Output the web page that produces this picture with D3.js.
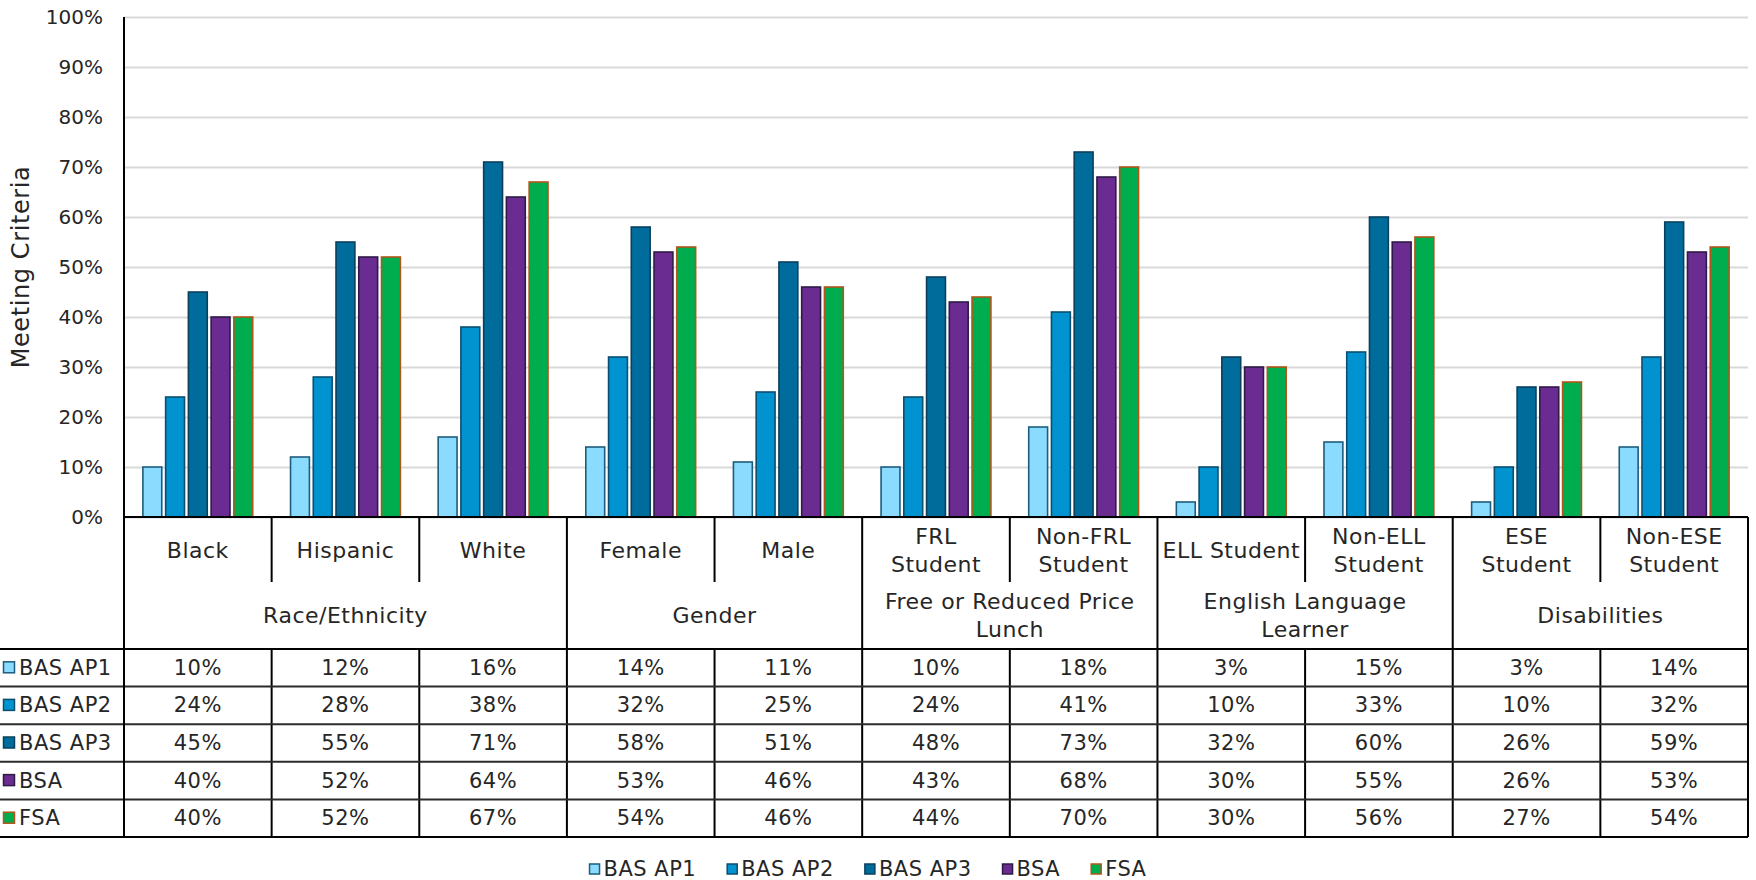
<!DOCTYPE html>
<html>
<head>
<meta charset="utf-8">
<script src="https://cdn.jsdelivr.net/npm/d3@7"></script>
<style>
  html, body { margin: 0; padding: 0; background: #fff; }
  svg { display: block; }
  text { font-family: "DejaVu Sans", sans-serif; fill: #262626; }
</style>
</head>
<body>
<svg id="chart" width="1756" height="880"></svg>
<script>
// Student subgroups (columns) and the report groups they belong to
const categories = ["Black", "Hispanic", "White", "Female", "Male", "FRL Student",
  "Non-FRL Student", "ELL Student", "Non-ELL Student", "ESE Student", "Non-ESE Student"];
const categoryLines = [["Black"], ["Hispanic"], ["White"], ["Female"], ["Male"],
  ["FRL", "Student"], ["Non-FRL", "Student"], ["ELL Student"], ["Non-ELL", "Student"],
  ["ESE", "Student"], ["Non-ESE", "Student"]];
const groupNames = [["Race/Ethnicity"], ["Gender"], ["Free or Reduced Price", "Lunch"],
  ["English Language", "Learner"], ["Disabilities"]];
const groupSizes = [3, 2, 2, 2, 2];

// Percent of students meeting criteria, by assessment
const seriesNames = ["BAS AP1", "BAS AP2", "BAS AP3", "BSA", "FSA"];
const basAp1 = [10, 12, 16, 14, 11, 10, 18, 3, 15, 3, 14];
const basAp2 = [24, 28, 38, 32, 25, 24, 41, 10, 33, 10, 32];
const basAp3 = [45, 55, 71, 58, 51, 48, 73, 32, 60, 26, 59];
const bsa    = [40, 52, 64, 53, 46, 43, 68, 30, 55, 26, 53];
const fsa    = [40, 52, 67, 54, 46, 44, 70, 30, 56, 27, 54];
const seriesValues = [basAp1, basAp2, basAp3, bsa, fsa];

const yTicks = [0, 10, 20, 30, 40, 50, 60, 70, 80, 90, 100];

const fills   = ["#8BDBFF", "#0093D0", "#006C9C", "#6A2C91", "#00AD4E"];
const strokes = ["#1D5C7C", "#0B4E6E", "#0A405C", "#2E1B45", "#B0561A"];

const svg = d3.select("#chart");
const plotLeft = 124, plotRight = 1748, plotTop = 17, plotBase = 517;
const catRowBottom = 582, tableTop = 649, rowH = 37.6;
const tableBottom = tableTop + rowH * seriesNames.length;

const x0 = d3.scaleBand().domain(categories).range([plotLeft, plotRight]).padding(0);
const cw = x0.bandwidth();
const x1 = d3.scaleBand().domain(seriesNames)
  .range([cw * 0.128, cw * 0.872]).paddingInner(0.17);
const y = d3.scaleLinear().domain([0, 100]).range([plotBase, plotTop]);

const labelSize = "22px", labelSpacing = "0.5px";

// Gridlines and percent tick labels
const yAxis = d3.axisLeft(y).tickValues(yTicks).tickFormat(d => d + "%")
  .tickSizeInner(-(plotRight - plotLeft)).tickSizeOuter(0).tickPadding(21);
const gy = svg.append("g").attr("transform", `translate(${plotLeft},0)`).call(yAxis);
gy.select(".domain").remove();
gy.selectAll(".tick line").attr("stroke", "#d9d9d9").attr("stroke-width", 2);
gy.selectAll(".tick text").style("font-size", "20px").style("font-family", "DejaVu Sans")
  .attr("fill", "#262626");

// Axis title
svg.append("text")
  .attr("transform", `translate(21,${(plotTop + plotBase) / 2}) rotate(-90)`)
  .attr("text-anchor", "middle").attr("dominant-baseline", "central")
  .style("font-size", "24px").style("letter-spacing", "0.6px")
  .text("Meeting Criteria");

// Bars
const gBars = svg.append("g");
categories.forEach((c, ci) => {
  seriesNames.forEach((s, si) => {
    const v = seriesValues[si][ci];
    gBars.append("rect")
      .attr("x", x0(c) + x1(s))
      .attr("y", y(v))
      .attr("width", x1.bandwidth())
      .attr("height", y(0) - y(v))
      .attr("fill", fills[si])
      .attr("stroke", strokes[si])
      .attr("stroke-width", 1.6);
  });
});

// Category header texts
categories.forEach((c, ci) => {
  const lines = categoryLines[ci];
  const cx = x0(c) + cw / 2, cy = (plotBase + catRowBottom) / 2 + 1;
  lines.forEach((ln, li) => {
    svg.append("text").attr("x", cx)
      .attr("y", cy + (li - (lines.length - 1) / 2) * 28)
      .attr("text-anchor", "middle").attr("dominant-baseline", "central")
      .style("font-size", labelSize).style("letter-spacing", labelSpacing).text(ln);
  });
});

// Group header texts
let startIdx = 0;
const groupBounds = [];
groupSizes.forEach((n, gi) => {
  const gx0 = x0(categories[startIdx]);
  const gx1 = x0(categories[startIdx + n - 1]) + cw;
  groupBounds.push([gx0, gx1]);
  const lines = groupNames[gi];
  const cy = (catRowBottom + tableTop) / 2;
  lines.forEach((ln, li) => {
    svg.append("text").attr("x", (gx0 + gx1) / 2)
      .attr("y", cy + (li - (lines.length - 1) / 2) * 28)
      .attr("text-anchor", "middle").attr("dominant-baseline", "central")
      .style("font-size", labelSize).style("letter-spacing", labelSpacing).text(ln);
  });
  startIdx += n;
});

// Data table values and row headers
seriesNames.forEach((s, si) => {
  const cy = tableTop + rowH * (si + 0.5);
  svg.append("rect").attr("x", 3.5).attr("y", cy - 6).attr("width", 11).attr("height", 11)
    .attr("fill", fills[si]).attr("stroke", strokes[si]).attr("stroke-width", 1.5);
  svg.append("text").attr("x", 19).attr("y", cy)
    .attr("dominant-baseline", "central")
    .style("font-size", "21px").style("letter-spacing", labelSpacing).text(s);
  categories.forEach((c, ci) => {
    svg.append("text").attr("x", x0(c) + cw / 2).attr("y", cy)
      .attr("text-anchor", "middle").attr("dominant-baseline", "central")
      .style("font-size", "21px").style("letter-spacing", labelSpacing)
      .text(seriesValues[si][ci] + "%");
  });
});

// Table rules
const gLines = svg.append("g").attr("stroke", "#000").attr("stroke-width", 2);
const groupEdges = new Set(groupBounds.map(b => Math.round(b[0])));
categories.forEach((c, ci) => {
  if (ci === 0) return;
  const xx = x0(c);
  if (groupEdges.has(Math.round(xx))) {
    gLines.append("line").attr("x1", xx).attr("x2", xx).attr("y1", plotBase).attr("y2", tableBottom);
  } else {
    gLines.append("line").attr("x1", xx).attr("x2", xx).attr("y1", plotBase).attr("y2", catRowBottom);
    gLines.append("line").attr("x1", xx).attr("x2", xx).attr("y1", tableTop).attr("y2", tableBottom);
  }
});
for (let i = 0; i <= seriesNames.length; i++) {
  const yy = tableTop + rowH * i;
  gLines.append("line").attr("x1", 0).attr("x2", plotRight).attr("y1", yy).attr("y2", yy)
    .attr("stroke", (i === 0 || i === seriesNames.length) ? "#000" : "#2b2b2b");
}
gLines.append("line").attr("x1", plotLeft).attr("x2", plotRight).attr("y1", plotBase).attr("y2", plotBase);
gLines.append("line").attr("x1", plotRight).attr("x2", plotRight).attr("y1", plotBase).attr("y2", tableBottom);
gLines.append("line").attr("x1", plotLeft).attr("x2", plotLeft).attr("y1", plotTop).attr("y2", tableBottom);

// Legend
const legend = svg.append("g");
let lx = 0;
const legendGap = 31;
seriesNames.forEach((s, si) => {
  const item = legend.append("g").attr("transform", `translate(${lx},0)`);
  item.append("rect").attr("x", 0).attr("y", -5).attr("width", 10).attr("height", 10)
    .attr("fill", fills[si]).attr("stroke", strokes[si]).attr("stroke-width", 1.5);
  const t = item.append("text").attr("x", 14).attr("y", 0).attr("dominant-baseline", "central")
    .style("font-size", "21px").style("letter-spacing", labelSpacing).text(s);
  lx += 14 + t.node().getComputedTextLength() + legendGap;
});
const legendW = lx - legendGap;
legend.attr("transform", `translate(${868 - legendW / 2},869)`);
</script>
</body>
</html>
